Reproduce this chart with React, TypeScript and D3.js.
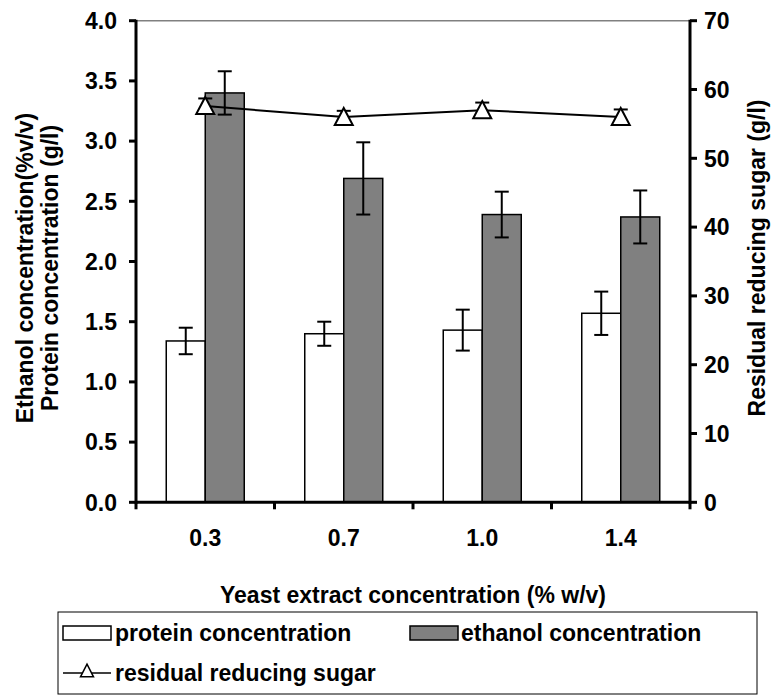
import React from "react";
import * as d3 from "d3";

const categories = ["0.3", "0.7", "1.0", "1.4"];
const protein = [1.34, 1.40, 1.43, 1.57];
const proteinErr = [0.11, 0.10, 0.17, 0.18];
const ethanol = [3.40, 2.69, 2.39, 2.37];
const ethanolErr = [0.18, 0.30, 0.19, 0.22];
const sugar = [57.6, 56.0, 57.0, 56.0];
const sugarErr = [1.1, 0.9, 1.1, 1.1];
const leftTicks = [0, 0.5, 1.0, 1.5, 2.0, 2.5, 3.0, 3.5, 4.0];
const rightTicks = [0, 10, 20, 30, 40, 50, 60, 70];

const FONT = "'Liberation Sans', Arial, Helvetica, sans-serif";
const FS = 23;

export default function App() {
  const left = 136, right = 690, top = 20.7, bottom = 502.3;
  const x = d3.scaleBand<string>().domain(categories).range([left, right]).paddingInner(0).paddingOuter(0);
  const yL = d3.scaleLinear().domain([0, 4]).range([bottom, top]);
  const yR = d3.scaleLinear().domain([0, 70]).range([bottom, top]);
  const bw = 39;
  const cx = (c: string) => (x(c) as number) + x.bandwidth() / 2;
  const cap = 7;
  const tri = (px: number, py: number, s: number) => {
    const h = s * 0.9;
    return `M${px},${py - h / 2 - 1} L${px + s / 2},${py + h / 2} L${px - s / 2},${py + h / 2} Z`;
  };
  const line = d3.line<number>().x((_, i) => cx(categories[i])).y((d) => yR(d));
  const bounds = [...categories.map((c) => x(c) as number), right];

  const errBar = (xx: number, y1: number, y2: number, key: string) => (
    <g key={key} stroke="#000" strokeWidth={2}>
      <line x1={xx} x2={xx} y1={y1} y2={y2} />
      <line x1={xx - cap} x2={xx + cap} y1={y1} y2={y1} />
      <line x1={xx - cap} x2={xx + cap} y1={y2} y2={y2} />
    </g>
  );

  return (
    <svg width={773} height={695} style={{ position: "absolute", left: 0, top: 0, background: "#fff" }} fontFamily={FONT} fontWeight="bold" fontSize={FS}>
      <rect x={0} y={0} width={773} height={695} fill="#fff" />
      <line x1={left} x2={right} y1={top} y2={top} stroke="#808080" strokeWidth={1.5} />
      {categories.map((c, i) => (
        <g key={c}>
          <rect x={cx(c) - bw} y={yL(protein[i])} width={bw} height={bottom - yL(protein[i])} fill="#fff" stroke="#000" strokeWidth={1.5} />
          <rect x={cx(c)} y={yL(ethanol[i])} width={bw} height={bottom - yL(ethanol[i])} fill="#808080" stroke="#000" strokeWidth={1.5} />
        </g>
      ))}
      {categories.map((c, i) => errBar(cx(c) - bw / 2, yL(protein[i] + proteinErr[i]), yL(protein[i] - proteinErr[i]), "pe" + i))}
      {categories.map((c, i) => errBar(cx(c) + bw / 2, yL(ethanol[i] + ethanolErr[i]), yL(ethanol[i] - ethanolErr[i]), "ee" + i))}
      <path d={line(sugar) || ""} fill="none" stroke="#000" strokeWidth={2} />
      {categories.map((c, i) => errBar(cx(c), yR(sugar[i] + sugarErr[i]), yR(sugar[i] - sugarErr[i]), "se" + i))}
      {categories.map((c, i) => (
        <path key={"t" + i} d={tri(cx(c), yR(sugar[i]), 18)} fill="#fff" stroke="#000" strokeWidth={2} />
      ))}
      <line x1={left} x2={right} y1={bottom} y2={bottom} stroke="#000" strokeWidth={3} />
      {bounds.map((b, i) => (
        <line key={"xt" + i} x1={b} x2={b} y1={bottom} y2={bottom + 7} stroke="#000" strokeWidth={3} />
      ))}
      <line x1={left} x2={left} y1={top - 1} y2={bottom + 1.5} stroke="#000" strokeWidth={3} />
      <line x1={right} x2={right} y1={top - 1} y2={bottom + 1.5} stroke="#000" strokeWidth={3} />
      {leftTicks.map((t) => (
        <g key={"lt" + t}>
          <line x1={left - 7} x2={left} y1={yL(t)} y2={yL(t)} stroke="#000" strokeWidth={3} />
          <text x={117} y={yL(t)} dy="0.36em" textAnchor="end">{t.toFixed(1)}</text>
        </g>
      ))}
      {rightTicks.map((t) => (
        <g key={"rt" + t}>
          <line x1={right} x2={right + 7} y1={yR(t)} y2={yR(t)} stroke="#000" strokeWidth={3} />
          <text x={704} y={yR(t)} dy="0.36em">{t}</text>
        </g>
      ))}
      {categories.map((c) => (
        <text key={"xl" + c} x={cx(c)} y={546} textAnchor="middle">{c}</text>
      ))}
      <text x={413} y={603} textAnchor="middle">Yeast extract concentration (% w/v)</text>
      <text transform="translate(33,268) rotate(-90)" textAnchor="middle">Ethanol concentration(%v/v)</text>
      <text transform="translate(58,268) rotate(-90)" textAnchor="middle">Protein concentration (g/l)</text>
      <text transform="translate(765,258) rotate(-90)" textAnchor="middle">Residual reducing sugar (g/l)</text>
      <rect x={58} y={612} width={699} height={82} fill="#fff" stroke="#000" strokeWidth={1} />
      <rect x={63} y={626} width={48} height={14} fill="#fff" stroke="#000" strokeWidth={1.5} />
      <text x={115} y={641}>protein concentration</text>
      <rect x={410} y={626} width={48} height={14} fill="#808080" stroke="#000" strokeWidth={1.5} />
      <text x={461} y={641}>ethanol concentration</text>
      <line x1={63} x2={111} y1={673} y2={673} stroke="#000" strokeWidth={1.5} />
      <path d={tri(87, 671, 13)} fill="#fff" stroke="#000" strokeWidth={1.5} />
      <text x={115} y={681}>residual reducing sugar</text>
    </svg>
  );
}
